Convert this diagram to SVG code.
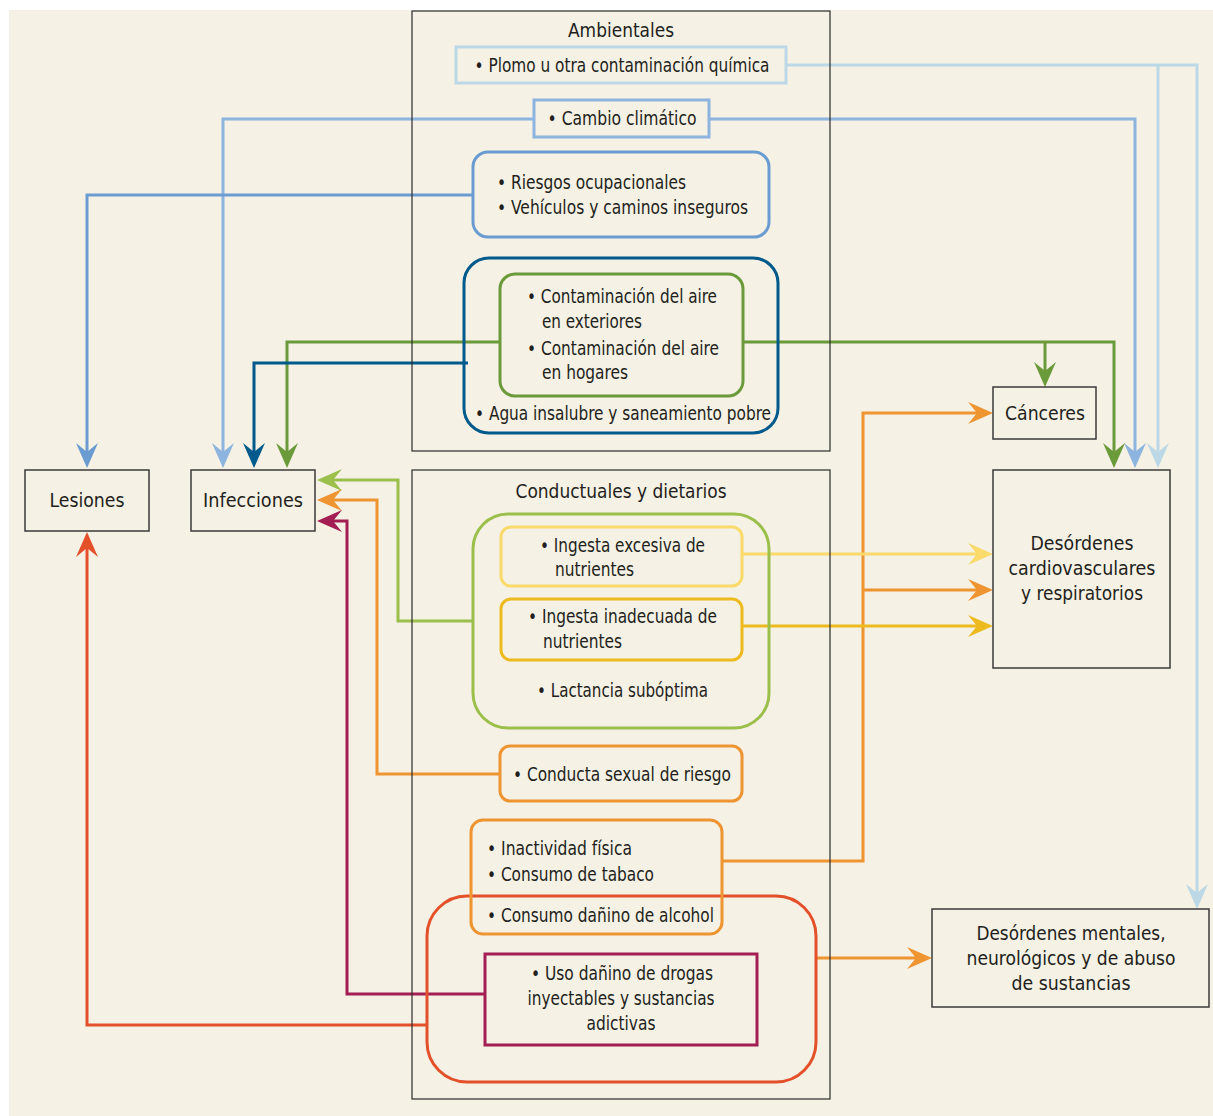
<svg xmlns="http://www.w3.org/2000/svg" width="1213" height="1116" viewBox="0 0 1213 1116">
<style>
text{font-family:"DejaVu Sans Condensed","DejaVu Sans","Liberation Sans",sans-serif;fill:#231F20;font-size:20px}
.c{text-anchor:middle}
.n{fill:none;stroke:#3a3a3a;stroke-width:1.5}
.g{fill:none;stroke:#2b2b2b;stroke-width:1.2}
.w{fill:none;stroke-width:3}
</style>
<defs>
<marker id="a-lb" markerUnits="userSpaceOnUse" viewBox="-26 -12 28 24" markerWidth="28" markerHeight="24" refX="-8" refY="0" orient="auto"><path d="M0,0 L-25,-11 L-16,0 L-25,11 Z" fill="#BCD8E6"/></marker>
<marker id="a-b2" markerUnits="userSpaceOnUse" viewBox="-26 -12 28 24" markerWidth="28" markerHeight="24" refX="-8" refY="0" orient="auto"><path d="M0,0 L-25,-11 L-16,0 L-25,11 Z" fill="#8DB4DF"/></marker>
<marker id="a-b3" markerUnits="userSpaceOnUse" viewBox="-26 -12 28 24" markerWidth="28" markerHeight="24" refX="-8" refY="0" orient="auto"><path d="M0,0 L-25,-11 L-16,0 L-25,11 Z" fill="#6A9BD1"/></marker>
<marker id="a-db" markerUnits="userSpaceOnUse" viewBox="-26 -12 28 24" markerWidth="28" markerHeight="24" refX="-8" refY="0" orient="auto"><path d="M0,0 L-25,-11 L-16,0 L-25,11 Z" fill="#005A8B"/></marker>
<marker id="a-gr" markerUnits="userSpaceOnUse" viewBox="-26 -12 28 24" markerWidth="28" markerHeight="24" refX="-8" refY="0" orient="auto"><path d="M0,0 L-25,-11 L-16,0 L-25,11 Z" fill="#6A9A3A"/></marker>
<marker id="a-lg" markerUnits="userSpaceOnUse" viewBox="-26 -12 28 24" markerWidth="28" markerHeight="24" refX="-8" refY="0" orient="auto"><path d="M0,0 L-25,-11 L-16,0 L-25,11 Z" fill="#9BBF4A"/></marker>
<marker id="a-or" markerUnits="userSpaceOnUse" viewBox="-26 -12 28 24" markerWidth="28" markerHeight="24" refX="-8" refY="0" orient="auto"><path d="M0,0 L-25,-11 L-16,0 L-25,11 Z" fill="#EE9430"/></marker>
<marker id="a-mg" markerUnits="userSpaceOnUse" viewBox="-26 -12 28 24" markerWidth="28" markerHeight="24" refX="-8" refY="0" orient="auto"><path d="M0,0 L-25,-11 L-16,0 L-25,11 Z" fill="#A31E52"/></marker>
<marker id="a-rd" markerUnits="userSpaceOnUse" viewBox="-26 -12 28 24" markerWidth="28" markerHeight="24" refX="-8" refY="0" orient="auto"><path d="M0,0 L-25,-11 L-16,0 L-25,11 Z" fill="#E4502A"/></marker>
<marker id="a-ly" markerUnits="userSpaceOnUse" viewBox="-26 -12 28 24" markerWidth="28" markerHeight="24" refX="-8" refY="0" orient="auto"><path d="M0,0 L-25,-11 L-16,0 L-25,11 Z" fill="#F9DA6A"/></marker>
<marker id="a-ye" markerUnits="userSpaceOnUse" viewBox="-26 -12 28 24" markerWidth="28" markerHeight="24" refX="-8" refY="0" orient="auto"><path d="M0,0 L-25,-11 L-16,0 L-25,11 Z" fill="#EDBB1F"/></marker>
</defs>
<rect x="0" y="0" width="1213" height="1116" fill="#FFFFFF"/>
<rect x="9" y="10" width="1204" height="1106" fill="#F5F1E4"/>

<g id="connectors" fill="none" stroke-width="3">
<path d="M786,65 H1197 V901" stroke="#BCD8E6" marker-end="url(#a-lb)"/>
<path d="M1158,65 V460" stroke="#BCD8E6" marker-end="url(#a-lb)"/>
<path d="M534,119 H223 V460" stroke="#8DB4DF" marker-end="url(#a-b2)"/>
<path d="M709,119 H1135 V460" stroke="#8DB4DF" marker-end="url(#a-b2)"/>
<path d="M473,195 H87 V460" stroke="#6A9BD1" marker-end="url(#a-b3)"/>
<path d="M500,342 H287 V460" stroke="#6A9A3A" marker-end="url(#a-gr)"/>
<path d="M743,342 H1114 V460" stroke="#6A9A3A" marker-end="url(#a-gr)"/>
<path d="M1045,342 V379" stroke="#6A9A3A" marker-end="url(#a-gr)"/>
<path d="M468,363 H254 V460" stroke="#005A8B" marker-end="url(#a-db)"/>
<path d="M473,621 H398 V480 H325" stroke="#9BBF4A" marker-end="url(#a-lg)"/>
<path d="M501,774 H377 V500 H325" stroke="#EE9430" marker-end="url(#a-or)"/>
<path d="M485,994 H347 V521 H325" stroke="#A31E52" marker-end="url(#a-mg)"/>
<path d="M427,1025 H87 V540" stroke="#E4502A" marker-end="url(#a-rd)"/>
<path d="M722,861 H863 V413 H985" stroke="#EE9430" marker-end="url(#a-or)"/>
<path d="M863,590 H985" stroke="#EE9430" marker-end="url(#a-or)"/>
<path d="M742,554 H985" stroke="#F9DA6A" marker-end="url(#a-ly)"/>
<path d="M742,626 H985" stroke="#EDBB1F" marker-end="url(#a-ye)"/>
<path d="M816,958 H924" stroke="#EE9430" marker-end="url(#a-or)"/>
</g>

<g id="ambientales">
<rect class="g" x="412" y="11" width="418" height="440"/>
<text class="c" x="621" y="37" textLength="106" lengthAdjust="spacingAndGlyphs">Ambientales</text>
</g>
<g id="plomo">
<rect class="w" x="456" y="47" width="330" height="36" stroke="#BCD8E6"/>
<text class="c" x="622" y="72" textLength="295" lengthAdjust="spacingAndGlyphs">• Plomo u otra contaminación química</text>
</g>
<g id="cambio">
<rect class="w" x="534" y="100" width="175" height="37" stroke="#8DB4DF"/>
<text class="c" x="622" y="125" textLength="149" lengthAdjust="spacingAndGlyphs">• Cambio climático</text>
</g>
<g id="riesgos">
<rect class="w" x="473" y="152" width="296" height="85" rx="15" stroke="#6A9BD1"/>
<text x="497" y="189" textLength="189" lengthAdjust="spacingAndGlyphs">• Riesgos ocupacionales</text>
<text x="497" y="214" textLength="251" lengthAdjust="spacingAndGlyphs">• Vehículos y caminos inseguros</text>
</g>
<g id="agua">
<rect class="w" x="464" y="258" width="314" height="175" rx="25" stroke="#005A8B"/>
<text x="475" y="420" textLength="296" lengthAdjust="spacingAndGlyphs">• Agua insalubre y saneamiento pobre</text>
</g>
<g id="aire">
<rect class="w" x="500" y="274" width="243" height="122" rx="15" stroke="#6A9A3A"/>
<text x="527" y="303" textLength="190" lengthAdjust="spacingAndGlyphs">• Contaminación del aire</text>
<text x="542" y="328" textLength="100" lengthAdjust="spacingAndGlyphs">en exteriores</text>
<text x="527" y="355" textLength="192" lengthAdjust="spacingAndGlyphs">• Contaminación del aire</text>
<text x="542" y="379" textLength="86" lengthAdjust="spacingAndGlyphs">en hogares</text>
</g>

<g id="conductuales">
<rect class="g" x="412" y="470" width="418" height="629"/>
<text class="c" x="621" y="498" textLength="211" lengthAdjust="spacingAndGlyphs">Conductuales y dietarios</text>
</g>
<g id="dieta">
<rect class="w" x="473" y="514" width="296" height="214" rx="35" stroke="#9BBF4A"/>
<text x="537" y="697" textLength="171" lengthAdjust="spacingAndGlyphs">• Lactancia subóptima</text>
</g>
<g id="excesiva">
<rect class="w" x="501" y="527" width="241" height="59" rx="10" stroke="#F9DA6A"/>
<text x="540" y="552" textLength="165" lengthAdjust="spacingAndGlyphs">• Ingesta excesiva de</text>
<text x="555" y="576" textLength="79" lengthAdjust="spacingAndGlyphs">nutrientes</text>
</g>
<g id="inadecuada">
<rect class="w" x="501" y="599" width="241" height="61" rx="10" stroke="#EDBB1F"/>
<text x="528" y="623" textLength="189" lengthAdjust="spacingAndGlyphs">• Ingesta inadecuada de</text>
<text x="543" y="648" textLength="79" lengthAdjust="spacingAndGlyphs">nutrientes</text>
</g>
<g id="sexual">
<rect class="w" x="500" y="746" width="242" height="55" rx="10" stroke="#EE9430"/>
<text x="513" y="781" textLength="218" lengthAdjust="spacingAndGlyphs">• Conducta sexual de riesgo</text>
</g>
<g id="sustancias">
<rect class="w" x="427" y="896" width="389" height="186" rx="40" stroke="#E4502A"/>
</g>
<g id="inactividad">
<rect class="w" x="471" y="820" width="251" height="114" rx="12" stroke="#EE9430"/>
<text x="487" y="855" textLength="145" lengthAdjust="spacingAndGlyphs">• Inactividad física</text>
<text x="487" y="881" textLength="167" lengthAdjust="spacingAndGlyphs">• Consumo de tabaco</text>
<text x="487" y="922" textLength="227" lengthAdjust="spacingAndGlyphs">• Consumo dañino de alcohol</text>
</g>
<g id="drogas">
<rect class="w" x="485" y="954" width="272" height="91" stroke="#A31E52"/>
<text class="c" x="622" y="980" textLength="182" lengthAdjust="spacingAndGlyphs">• Uso dañino de drogas</text>
<text class="c" x="621" y="1005" textLength="187" lengthAdjust="spacingAndGlyphs">inyectables y sustancias</text>
<text class="c" x="621" y="1030" textLength="69" lengthAdjust="spacingAndGlyphs">adictivas</text>
</g>

<g id="lesiones">
<rect class="n" x="25" y="470" width="124" height="61"/>
<text class="c" x="87" y="507" textLength="75" lengthAdjust="spacingAndGlyphs">Lesiones</text>
</g>
<g id="infecciones">
<rect class="n" x="191" y="470" width="124" height="61"/>
<text class="c" x="253" y="507" textLength="100" lengthAdjust="spacingAndGlyphs">Infecciones</text>
</g>
<g id="canceres">
<rect class="n" x="993" y="387" width="103" height="52"/>
<text class="c" x="1045" y="420" textLength="80" lengthAdjust="spacingAndGlyphs">Cánceres</text>
</g>
<g id="cardio">
<rect class="n" x="993" y="470" width="177" height="198"/>
<text class="c" x="1082" y="550" textLength="103" lengthAdjust="spacingAndGlyphs">Desórdenes</text>
<text class="c" x="1082" y="575" textLength="147" lengthAdjust="spacingAndGlyphs">cardiovasculares</text>
<text class="c" x="1082" y="600" textLength="122" lengthAdjust="spacingAndGlyphs">y respiratorios</text>
</g>
<g id="mentales">
<rect class="n" x="932" y="909" width="277" height="98"/>
<text class="c" x="1071" y="940" textLength="189" lengthAdjust="spacingAndGlyphs">Desórdenes mentales,</text>
<text class="c" x="1071" y="965" textLength="209" lengthAdjust="spacingAndGlyphs">neurológicos y de abuso</text>
<text class="c" x="1071" y="990" textLength="119" lengthAdjust="spacingAndGlyphs">de sustancias</text>
</g>
</svg>
